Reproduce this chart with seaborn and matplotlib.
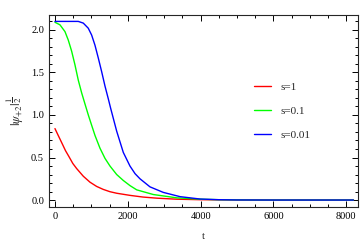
import numpy as np
import pandas as pd
import matplotlib
matplotlib.use("Agg")
import matplotlib.pyplot as plt
from matplotlib.ticker import MultipleLocator, FormatStrFormatter
import seaborn as sns

# values
t_s1 = [0, 100, 190, 290, 385, 490, 596, 778, 962, 1145, 1327, 1511, 1695, 2060,
        2420, 2800, 3343, 4000, 5000, 6000, 7000, 8200]
psi_s1 = [0.84, 0.75, 0.67, 0.58, 0.51, 0.43, 0.37, 0.28, 0.21, 0.16, 0.125,
          0.098, 0.08, 0.055, 0.035, 0.022, 0.01, 0.004, 0.001, 0.0, 0.0, 0.0]

t_s01 = [0, 137, 275, 366, 458, 549, 640, 733, 824, 916, 1007, 1099, 1236, 1374,
         1511, 1695, 1877, 2060, 2245, 2700, 3343, 4000, 4500, 5500, 7000, 8200]
psi_s01 = [2.09, 2.06, 1.98, 1.88, 1.75, 1.59, 1.41, 1.26, 1.13, 1.00, 0.88, 0.76,
           0.61, 0.49, 0.40, 0.30, 0.23, 0.17, 0.12, 0.065, 0.026, 0.01, 0.004,
           0.0, 0.0, 0.0]

t_s001 = [0, 300, 640, 778, 915, 1007, 1099, 1190, 1282, 1374, 1465, 1529, 1695,
          1877, 2060, 2200, 2335, 2610, 2975, 3434, 3984, 4500, 5000, 6000, 7000,
          8200]
psi_s001 = [2.10, 2.10, 2.10, 2.08, 2.02, 1.94, 1.82, 1.67, 1.51, 1.34, 1.19, 1.08,
            0.81, 0.56, 0.40, 0.31, 0.25, 0.155, 0.09, 0.04, 0.012, 0.004, 0.001,
            0.0, 0.0, 0.0]

labels = ["s=1", "s=0.1", "s=0.01"]
colors = ["#ff0000", "#00ff00", "#0000ff"]

df = pd.concat([
    pd.DataFrame({"t": t_s1, "psi": psi_s1, "s": labels[0]}),
    pd.DataFrame({"t": t_s01, "psi": psi_s01, "s": labels[1]}),
    pd.DataFrame({"t": t_s001, "psi": psi_s001, "s": labels[2]}),
])

sns.set_style("ticks")
plt.rcParams["font.family"] = ["Liberation Serif", "DejaVu Serif"]
plt.rcParams["mathtext.fontset"] = "stix"

fig = plt.figure(figsize=(3.6, 2.41), dpi=100)
ax = fig.add_axes([0.136, 0.141, 0.858, 0.797])

sns.lineplot(data=df, x="t", y="psi", hue="s", palette=colors,
             hue_order=labels, linewidth=1.0, ax=ax, estimator=None, sort=False)

ax.set_xlim(-165, 8320)
ax.set_ylim(-0.082, 2.176)
ax.xaxis.set_major_locator(MultipleLocator(2000))
ax.xaxis.set_minor_locator(MultipleLocator(500))
ax.yaxis.set_major_locator(MultipleLocator(0.5))
ax.yaxis.set_minor_locator(MultipleLocator(0.1))
ax.yaxis.set_major_formatter(FormatStrFormatter("%.1f"))

ax.tick_params(which="both", direction="in", top=True, right=True,
               labelsize=7.5, width=0.7, colors="black")
ax.tick_params(which="major", length=4)
ax.tick_params(which="minor", length=2)
for sp in ax.spines.values():
    sp.set_linewidth(0.8)

ax.set_xlabel("t", fontsize=8, labelpad=8)
ax.set_ylabel(r"$|\psi_{+2}|^{\dfrac{1}{2}}$", fontsize=9, labelpad=4)

ax.legend(frameon=False, fontsize=8, loc="upper left",
          bbox_to_anchor=(0.63, 0.70), handlelength=1.6, labelspacing=1.25,
          title=None)

fig.savefig("out.png", dpi=100)
